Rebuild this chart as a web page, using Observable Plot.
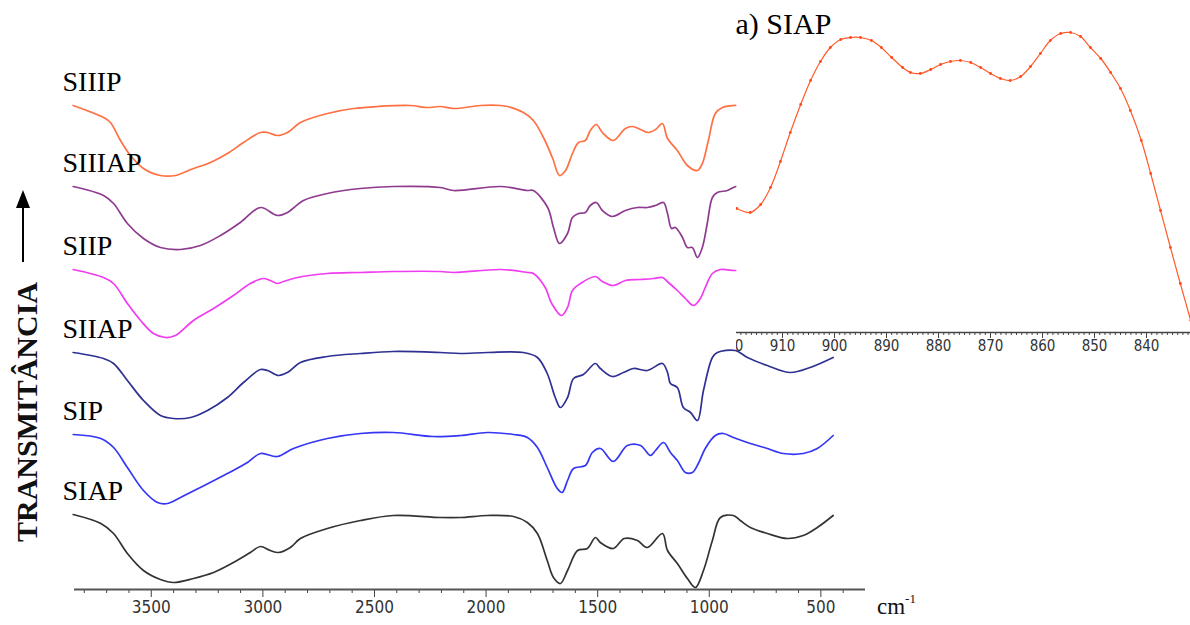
<!DOCTYPE html>
<html><head><meta charset="utf-8">
<script src="https://cdn.jsdelivr.net/npm/d3@7"></script>
<script src="https://cdn.jsdelivr.net/npm/@observablehq/plot@0.6"></script>
<style>
body{margin:0;background:#fff;}
#wrap{position:relative;width:1190px;height:625px;overflow:hidden;background:#fff;}
#main,#inset{position:absolute;top:0;}
#main{left:0;}
#inset{left:736px;}
#deco{position:absolute;left:0;top:0;}
#unit{position:absolute;left:877px;top:594px;font-family:"Liberation Serif","Times New Roman",serif;font-size:23px;color:#111;}
#unit sup{font-size:13px;vertical-align:top;position:relative;top:-3px;}
</style></head><body>
<div id="wrap">
  <div id="main"></div>
  <div id="inset"></div>
  <svg id="deco" width="60" height="625">
    <line x1="23" y1="262" x2="23" y2="204" stroke="#000" stroke-width="2"/>
    <polygon points="16,208 23,190 30,208" fill="#000"/>
    <text transform="translate(37,412) rotate(-90)" text-anchor="middle" style="font-family:'Liberation Serif','DejaVu Serif','Times New Roman',serif;font-weight:700;font-size:30px;fill:#111">TRANSMITÂNCIA</text>
  </svg>
  <div id="unit">cm<sup>-1</sup></div>
</div>
<script>
// ---- series (stacked transmittance, arbitrary units) ----
const seriesNames = ["SIIIP", "SIIIAP", "SIIP", "SIIAP", "SIP", "SIAP"];
const seriesColors = ["#ff7043", "#8e3b8f", "#f03cf0", "#2f3192", "#3535f5", "#333333"];

const siiipWn = [3850,3714,3683,3638,3593,3535,3459,3392,3311,3235,3159,3087,3011,2979,2935,2890,2832,2711,2594,2487,2340,2263,2205,2146,2025,1935,1904,1833,1788,1743,1703,1671,1644,1613,1586,1555,1533,1506,1479,1430,1376,1344,1308,1273,1241,1210,1187,1143,1098,1053,1031,1004,973,941,892,880];
const siiipT = [484,472,467,449,434,421,414,414,421,427,436,447,457,457,454,457,467,476,481,483,484,482,483,481,484,484,483,477,469,452,432,414,419,436,447,449,459,465,457,449,461,463,460,457,460,466,451,439,424,419,426,449,476,482,484,484];

const siiiapWn = [3850,3714,3669,3607,3535,3459,3369,3280,3190,3101,3011,2935,2890,2818,2711,2563,2415,2205,2146,1935,1814,1788,1724,1698,1671,1635,1613,1586,1555,1533,1506,1479,1434,1376,1322,1277,1241,1205,1187,1169,1152,1120,1098,1076,1053,1031,1009,986,964,919,892,880];
const siiiapT = [403,394,386,366,351,342,340,344,354,367,382,374,377,389,396,401,403,402,399,403,399,399,382,362,346,356,372,376,377,384,387,379,373,379,382,382,384,387,376,361,362,352,342,342,332,342,366,392,397,399,402,403];

const siipWn = [3850,3714,3669,3607,3548,3490,3436,3392,3311,3221,3132,3056,2998,2967,2935,2908,2845,2711,2563,2415,2205,2146,1935,1814,1788,1735,1706,1662,1635,1613,1577,1510,1479,1430,1376,1308,1250,1210,1183,1143,1107,1071,1040,1018,986,950,892,880];
const siipT = [320,312,306,286,269,256,252,254,269,281,294,306,311,309,306,308,312,316,317,318,318,317,320,317,316,302,286,274,282,299,306,313,308,304,309,310,311,312,307,299,291,284,291,302,316,320,319,319];

const siiapWn = [3850,3714,3669,3607,3535,3459,3400,3324,3248,3159,3087,3011,2979,2930,2890,2832,2711,2563,2415,2205,2115,1994,1833,1770,1726,1690,1667,1635,1608,1564,1510,1488,1434,1385,1340,1277,1210,1187,1174,1143,1116,1084,1053,1026,986,964,883,829,740,637,548,445];
const siiapT = [237,231,226,209,189,174,171,172,179,192,207,220,219,214,217,227,233,236,238,237,236,237,237,232,216,192,182,192,211,215,226,221,213,217,221,219,226,217,206,202,182,177,169,199,232,237,239,232,224,217,222,232];

const sipWn = [3850,3726,3669,3607,3535,3472,3427,3369,3280,3159,3069,3011,2935,2863,2711,2563,2415,2236,2115,1994,1877,1815,1770,1726,1681,1659,1635,1608,1555,1524,1488,1430,1367,1308,1264,1241,1205,1174,1143,1107,1076,1049,1018,973,937,892,816,740,668,579,516,445];
const sipT = [155,151,142,122,99,87,86,92,102,116,127,136,133,141,151,156,157,153,154,157,155,152,142,122,101,97,109,121,124,137,141,128,144,144,134,139,147,137,129,117,117,126,141,154,156,152,146,141,136,136,141,154];

const siapWn = [3850,3726,3669,3607,3535,3459,3400,3311,3221,3132,3056,3011,2967,2930,2877,2832,2711,2563,2415,2205,2115,1994,1877,1815,1770,1726,1698,1667,1635,1590,1546,1510,1488,1430,1381,1322,1277,1210,1187,1143,1098,1062,1026,986,950,892,861,816,740,650,579,516,445];
const siapT = [75,66,56,36,19,10,7,11,17,27,37,43,39,37,42,51,61,69,74,72,72,74,73,67,56,29,12,6,19,39,41,52,47,41,51,49,42,56,39,26,11,2,19,49,72,74,69,62,56,51,54,62,74];

// ---- inset a) SIAP ----
const insetWn = [918.8,916.2,914.2,912.3,910.4,908.5,906.5,904.6,902.7,900.8,898.8,896.9,895.0,892.9,891.0,889.0,886.9,885.4,883.5,881.5,879.6,877.7,875.8,873.8,871.9,870.0,868.1,866.2,864.2,862.3,860.4,858.5,856.5,854.6,852.7,850.8,848.8,846.9,845.0,843.1,841.0,839.2,837.3,835.4,833.5,831.5];
const insetT = [124,120,128,145,171,200,228,252,271,285,293,295,295,292,285,275,265,260,259,263,268,271,272,270,265,259,254,252,256,266,279,292,299,300,296,285,274,260,244,222,192,159,122,85,49,12];

// ---- tick labels ----
const mainTicks = [3500, 3000, 2500, 2000, 1500, 1000, 500];
const mainMinor = d3.range(400, 3900, 100).filter(v => v % 500 !== 0);
const insetTicks = [920, 910, 900, 890, 880, 870, 860, 850, 840];
const insetMinor = d3.range(832, 919, 1).filter(v => v % 10 !== 0);

const spectra = [
  {name: "SIIIP", wn: siiipWn, t: siiipT},
  {name: "SIIIAP", wn: siiiapWn, t: siiiapT},
  {name: "SIIP", wn: siipWn, t: siipT},
  {name: "SIIAP", wn: siiapWn, t: siiapT},
  {name: "SIP", wn: sipWn, t: sipT},
  {name: "SIAP", wn: siapWn, t: siapT}
];
const rows = spectra.flatMap(s => s.wn.map((w, i) => ({series: s.name, wn: w, t: s.t[i]})));
const labelRows = spectra.map(s => ({series: s.name, t: s.t[0] + 15}));
const insetRows = insetWn.map((w, i) => ({wn: w, t: insetT[i]}));

const narrow = "'Liberation Sans Narrow', 'Arial Narrow', 'DejaVu Sans Condensed', sans-serif";
const serif = "'Liberation Serif', 'Times New Roman', serif";
const fmt = d => String(d);

const main = Plot.plot({
  width: 1190, height: 625,
  marginLeft: 74, marginRight: 325, marginTop: 0, marginBottom: 36,
  x: {domain: [3844, 300], axis: null, label: null},
  y: {domain: [0, 589], axis: null},
  color: {domain: seriesNames, range: seriesColors},
  style: {background: "transparent", fontFamily: narrow, color: "#333"},
  marks: [
    Plot.axisX({ticks: mainMinor, tickSize: 4, tickFormat: () => "", label: null, stroke: "#444"}),
    Plot.axisX({ticks: mainTicks, tickSize: 8, tickPadding: 3, tickFormat: fmt, label: null, fontSize: 17, fontFamily: narrow, fill: "#333", stroke: "#444"}),
    Plot.ruleY([0], {stroke: "#555", strokeWidth: 2}),
    Plot.line(rows, {x: "wn", y: "t", z: "series", stroke: "series", strokeWidth: 1.7, curve: "catmull-rom"}),
    Plot.text(labelRows, {frameAnchor: "left", y: "t", text: "series", dx: -12, textAnchor: "start", lineAnchor: "bottom", fontSize: 28, fontFamily: serif, fill: "#000"})
  ]
});
document.getElementById("main").appendChild(main);

const inset = Plot.plot({
  width: 454, height: 360,
  marginLeft: 0, marginRight: 0, marginTop: 0, marginBottom: 28,
  x: {domain: [918.846, 831.54], axis: null, label: null},
  y: {domain: [0, 332], axis: null},
  style: {background: "transparent", overflow: "hidden", fontFamily: narrow, color: "#333"},
  marks: [
    Plot.frame({fill: "white", stroke: "none"}),
    Plot.line(insetRows, {x: "wn", y: "t", stroke: "#ff5a2a", strokeWidth: 1.2, curve: "catmull-rom"}),
    Plot.dot(insetRows, {x: "wn", y: "t", r: 1.4, fill: "#ff4a1a"}),
    Plot.ruleY([0], {stroke: "#444", strokeWidth: 1.5}),
    Plot.axisX({ticks: insetMinor, tickSize: 3, tickFormat: () => "", label: null, stroke: "#444"}),
    Plot.axisX({ticks: insetTicks, tickSize: 6, tickPadding: 2, tickFormat: fmt, label: null, fontSize: 15, fontFamily: narrow, fill: "#333", stroke: "#444"}),
    Plot.text(["a) SIAP"], {frameAnchor: "top-left", textAnchor: "start", lineAnchor: "top", dx: -1, dy: 12, fontSize: 30, fontFamily: serif, fill: "#000"})
  ]
});
document.getElementById("inset").appendChild(inset);
</script>
</body></html>
